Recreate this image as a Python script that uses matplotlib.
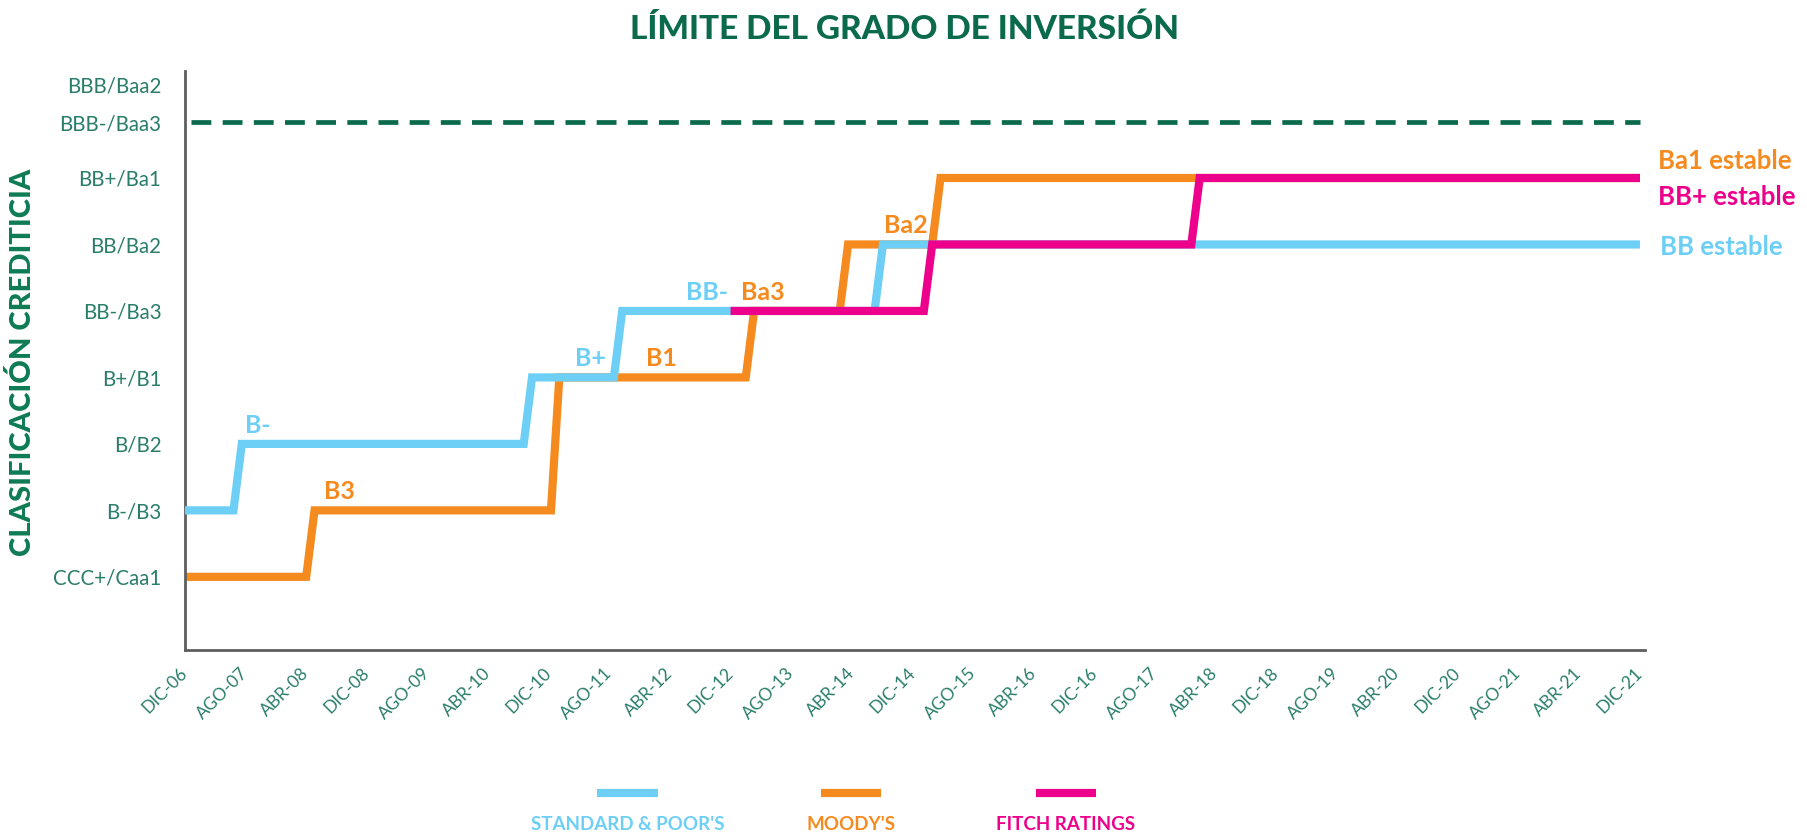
import matplotlib.pyplot as plt
import matplotlib.transforms as mtransforms
from matplotlib.lines import Line2D

# rating scale (S&P / Moody's), bottom to top
sp_scale = ['CCC+', 'B-', 'B', 'B+', 'BB-', 'BB', 'BB+', 'BBB-', 'BBB']
moody_scale = ['Caa1', 'B3', 'B2', 'B1', 'Ba3', 'Ba2', 'Ba1', 'Baa3', 'Baa2']
scale_labels = ['CCC+/Caa1', 'B-/B3', 'B/B2', 'B+/B1', 'BB-/Ba3', 'BB/Ba2',
                'BB+/Ba1', 'BBB-/Baa3', 'BBB/Baa2']

# x axis: months since DIC-06, one label every 8 months
x_labels = ['DIC-06', 'AGO-07', 'ABR-08', 'DIC-08', 'AGO-09', 'ABR-10', 'DIC-10',
            'AGO-11', 'ABR-12', 'DIC-12', 'AGO-13', 'ABR-14', 'DIC-14', 'AGO-15',
            'ABR-16', 'DIC-16', 'AGO-17', 'ABR-18', 'DIC-18', 'AGO-19', 'ABR-20',
            'DIC-20', 'AGO-21', 'ABR-21', 'DIC-21']
end_month = 192

# rating changes (month, new rating)
sp_dates = [0, 6.4, 44.7, 56.6, 91.0]
sp_ratings = ['B-', 'B', 'B+', 'BB-', 'BB']
moody_dates = [0, 16.0, 48.3, 74.0, 86.4, 98.6]
moody_ratings = ['Caa1', 'B3', 'B1', 'Ba3', 'Ba2', 'Ba1']
fitch_dates = [72.0, 97.5, 132.8]
fitch_ratings = ['BB-', 'BB', 'BB+']

# inline labels (text, month, rating level)
sp_notes = [('B-', 7.9, 'B'), ('B+', 51.5, 'B+'), ('BB-', 66.1, 'BB-')]
moody_notes = [('B3', 18.4, 'B3'), ('B1', 60.9, 'B1'), ('Ba3', 73.4, 'Ba3'),
               ('Ba2', 92.3, 'Ba2')]

blue = '#6dcff6'
orange = '#f58a1f'
pink = '#ec008c'
green = '#0a6a4b'
teal = '#2a7d6b'
font = 'Lato'

# vertical placement of the rating levels on the chart
level_pos = [0, 1, 2, 3, 4, 5, 6, 6.84, 7.41]


def rating_y(r):
    if r in sp_scale:
        return level_pos[sp_scale.index(r)]
    return level_pos[moody_scale.index(r)]


def step_path(dates, ratings, end, slant=1.1):
    ys = [rating_y(r) for r in ratings]
    px, py = [dates[0]], [ys[0]]
    for d, y0, y1 in zip(dates[1:], ys[:-1], ys[1:]):
        px += [d, d + slant]
        py += [y0, y1]
    px.append(end)
    py.append(ys[-1])
    return px, py


plt.rcParams['font.family'] = [font, 'DejaVu Sans']
fig = plt.figure(figsize=(18.08, 8.32), dpi=100)
ax = fig.add_axes([0.1023, 0.2188, 0.8077, 0.6959])

# investment grade limit
ax.plot([0.8, end_month], [level_pos[7], level_pos[7]], color=green, lw=3.4,
        dashes=(4.2, 2.4), solid_capstyle='butt', zorder=1)

series = [(moody_dates, moody_ratings, orange, 2),
          (sp_dates, sp_ratings, blue, 3),
          (fitch_dates, fitch_ratings, pink, 4)]
for dates, ratings, col, z in series:
    x, y = step_path(dates, ratings, end_month)
    ax.plot(x, y, color=col, lw=5.9, solid_joinstyle='miter',
            solid_capstyle='butt', zorder=z)

for txt, m, r in sp_notes:
    ax.text(m, rating_y(r) + 0.28, txt, color=blue, fontsize=18,
            fontweight='bold', va='center', ha='left')
for txt, m, r in moody_notes:
    ax.text(m, rating_y(r) + 0.28, txt, color=orange, fontsize=18,
            fontweight='bold', va='center', ha='left')

# final outlook labels
ax.text(194.4, rating_y('Ba1') + 0.26, 'Ba1 estable', color=orange, fontsize=18.5,
        fontweight='bold', va='center', clip_on=False)
ax.text(194.4, rating_y('BB+') - 0.29, 'BB+ estable', color=pink, fontsize=18.5,
        fontweight='bold', va='center', clip_on=False)
ax.text(194.7, rating_y('BB') - 0.04, 'BB estable', color=blue, fontsize=18.5,
        fontweight='bold', va='center', clip_on=False)

ax.set_xlim(0, 192.7)
ax.set_ylim(-1.10, 7.61)
ax.set_xticks(range(0, end_month + 1, 8))
ax.set_xticklabels(x_labels, rotation=45, ha='right', va='center',
                   rotation_mode='anchor', color=teal, fontsize=12.5)
# nudge the slanted labels a little to the left of their ticks
shift = mtransforms.ScaledTranslation(-5 / 100, 0, fig.dpi_scale_trans)
for lab in ax.get_xticklabels():
    lab.set_transform(lab.get_transform() + shift)
ax.set_yticks(level_pos)
ax.set_yticklabels(scale_labels, color=teal, fontsize=14.8)
ax.tick_params(axis='y', length=0, pad=17)
ax.tick_params(axis='x', length=0, pad=15)

for s in ['top', 'right']:
    ax.spines[s].set_visible(False)
for s in ['left', 'bottom']:
    ax.spines[s].set_color('#5e5e5e')
    ax.spines[s].set_linewidth(2)

fig.text(0.5005, 0.965, 'LÍMITE DEL GRADO DE INVERSIÓN', color=green,
         fontsize=24, fontweight='black', ha='center', va='center')
fig.text(0.0127, 0.564, 'CLASIFICACIÓN CREDITICIA', color='#0e7b55',
         fontsize=21, fontweight='black', rotation=90, ha='center', va='center')

# legend: short bars with the agency name under each
legend_items = [("STANDARD & POOR'S", blue, 0.347),
                ("MOODY'S", orange, 0.4707),
                ('FITCH RATINGS', pink, 0.5896)]
for name, col, cx in legend_items:
    fig.add_artist(Line2D([cx - 0.0168, cx + 0.0168], [0.047, 0.047],
                          color=col, lw=5.9, solid_capstyle='butt'))
    fig.text(cx, 0.0085, name, color=col, fontsize=13.5, fontweight='bold',
             ha='center', va='center')

fig.savefig('out.png', dpi=100)
